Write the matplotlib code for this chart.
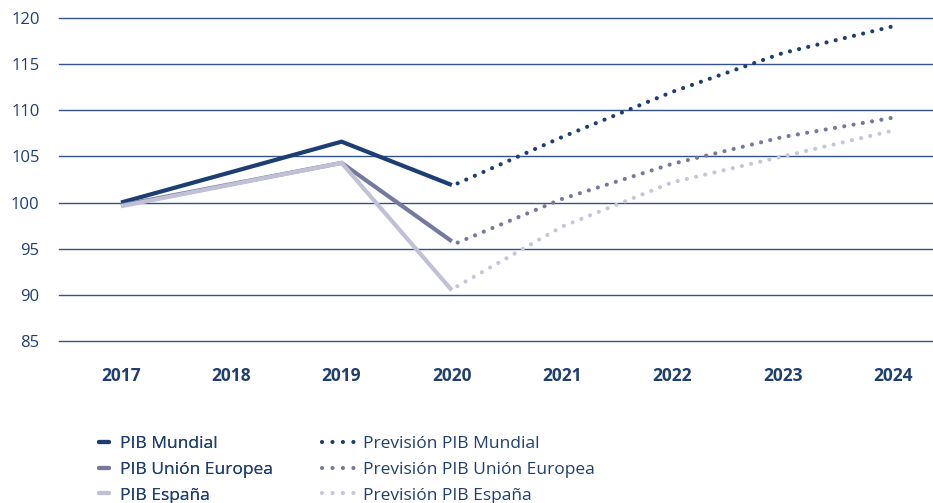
import matplotlib
matplotlib.use("Agg")
import matplotlib.pyplot as plt
from matplotlib.lines import Line2D

plt.rcParams['font.family'] = ['Open Sans', 'DejaVu Sans']

years = ['2017', '2018', '2019', '2020', '2021', '2022', '2023', '2024']
hist_idx = [0, 2, 3]
fc_idx = [3, 4, 5, 6, 7]

pib_mundial = [100.0, 106.6, 101.9]
pib_ue = [99.7, 104.3, 95.8]
pib_espana = [99.6, 104.3, 90.5]

prev_mundial = [101.8, 107.1, 112.0, 116.2, 119.1]
prev_ue = [95.4, 100.4, 104.2, 107.1, 109.2]
prev_espana = [90.6, 97.4, 102.2, 105.0, 107.8]

yticks = [85, 90, 95, 100, 105, 110, 115, 120]

c_mun = '#1c3e72'
c_ue = '#76799f'
c_esp = '#c0c0d6'
c_esp_fc = '#c6c6da'
c_grid = '#34528a'
c_text = '#1f3f6e'

W, H = 933, 503
fig = plt.figure(figsize=(W / 100, H / 100), dpi=100)
ax = fig.add_axes([59 / W, 1 - 341 / H, (W - 59) / W, (341 - 18) / H])

for y in yticks:
    ax.axhline(y, color=c_grid, lw=1.0, zorder=1, clip_on=False)

lw = 3.0
dots = (3.0, (0.01, 2.25))
series = [
    (pib_mundial, prev_mundial, c_mun, c_mun),
    (pib_ue, prev_ue, c_ue, c_ue),
    (pib_espana, prev_espana, c_esp, c_esp_fc),
]
for k, (hist, fc, col, colfc) in enumerate(series):
    ax.plot(hist_idx, hist, color=col, lw=lw, solid_capstyle='butt',
            solid_joinstyle='miter', zorder=3 + k, clip_on=False)
    ax.plot(fc_idx, fc, color=colfc, lw=lw, linestyle=dots,
            dash_capstyle='round', zorder=3 + k, clip_on=False)

ax.set_xlim(-0.562, 7.363)
ax.set_ylim(85, 120)
ax.set_xticks(range(len(years)))
ax.set_xticklabels(years, fontsize=12.5, fontweight='bold', color=c_text)
ax.set_yticks(yticks)
ax.set_yticklabels([str(v) for v in yticks], fontsize=12, color=c_text)
ax.tick_params(axis='x', length=0, pad=19)
ax.tick_params(axis='y', length=0, pad=14)
for s in ax.spines.values():
    s.set_visible(False)

fs = 12.5
h1 = [Line2D([], [], color=c, lw=lw, solid_capstyle='round') for c in (c_mun, c_ue, c_esp)]
h2 = [Line2D([], [], color=c, lw=lw, linestyle=(0, (0.01, 2.5)), dash_capstyle='round')
      for c in (c_mun, c_ue, c_esp_fc)]
lab1 = ['PIB Mundial', 'PIB Unión Europea', 'PIB España']
lab2 = ['Previsión PIB Mundial', 'Previsión PIB Unión Europea', 'Previsión PIB España']

top = 1 - 436 / H
leg1 = fig.legend(h1, lab1, loc='upper left', bbox_to_anchor=(99 / W, top),
                  frameon=False, fontsize=fs, handlelength=0.6, handletextpad=0.6,
                  labelspacing=0.55, borderpad=0, borderaxespad=0, labelcolor=c_text)
leg2 = fig.legend(h2, lab2, loc='upper left', bbox_to_anchor=(322 / W, top),
                  frameon=False, fontsize=fs, handlelength=2.05, handletextpad=0.3,
                  labelspacing=0.55, borderpad=0, borderaxespad=0, labelcolor=c_text)
fig.add_artist(leg1)

fig.savefig('out.png', dpi=100)
